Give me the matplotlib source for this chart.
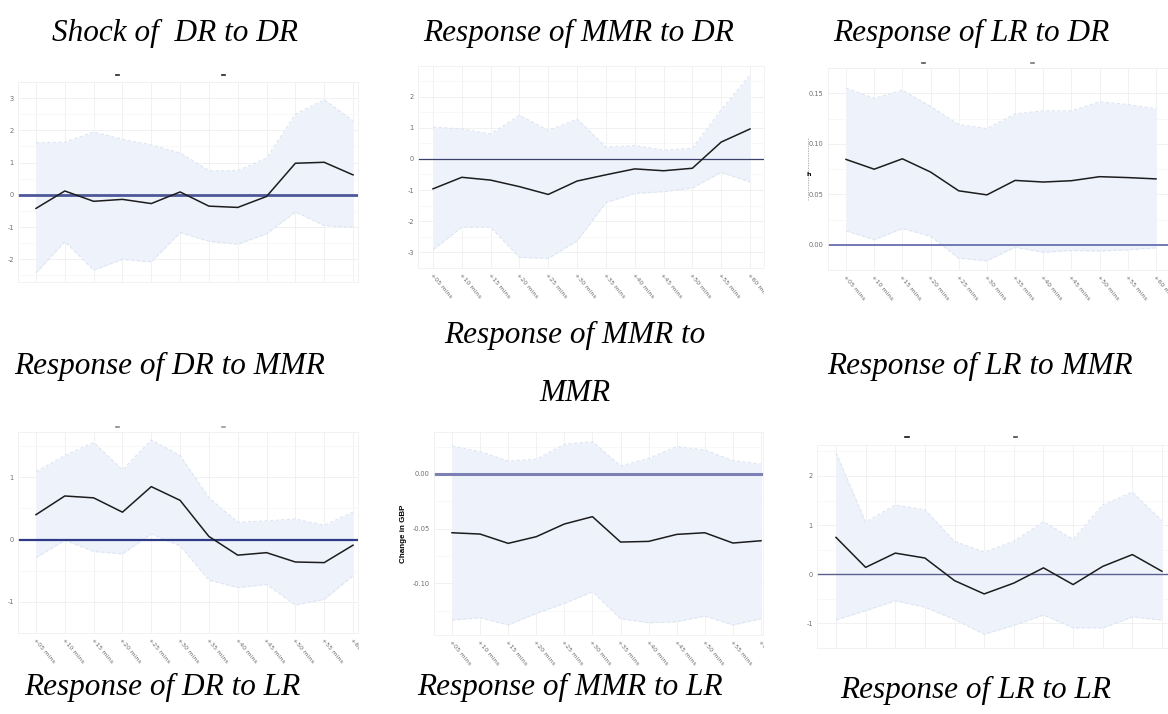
import matplotlib
matplotlib.use("Agg")
import matplotlib.pyplot as plt
from matplotlib.patches import Rectangle
from matplotlib.lines import Line2D
import numpy as np

plt.rcParams['axes.unicode_minus'] = False

# ---------------- data ----------------
horizons = ["+05 mins", "+10 mins", "+15 mins", "+20 mins", "+25 mins", "+30 mins",
            "+35 mins", "+40 mins", "+45 mins", "+50 mins", "+55 mins", "+60 mins"]

titles_row1 = ["Shock of  DR to DR", "Response of MMR to DR", "Response of LR to DR"]
titles_row2 = ["Response of DR to MMR", "Response of MMR to", "MMR", "Response of LR to MMR"]
titles_row3 = ["Response of DR to LR", "Response of MMR to LR", "Response of LR to LR"]

dr_dr = [-0.42, 0.12, -0.20, -0.14, -0.27, 0.09, -0.35, -0.39, -0.05, 0.98, 1.01, 0.62]
dr_dr_hi = [1.62, 1.63, 1.95, 1.72, 1.55, 1.30, 0.75, 0.75, 1.14, 2.50, 2.95, 2.30]
dr_dr_lo = [-2.42, -1.45, -2.33, -2.00, -2.08, -1.17, -1.44, -1.53, -1.21, -0.53, -0.95, -1.00]

mmr_dr = [-0.96, -0.59, -0.68, -0.89, -1.14, -0.71, -0.51, -0.32, -0.38, -0.30, 0.54, 0.96]
mmr_dr_hi = [1.02, 0.96, 0.80, 1.40, 0.91, 1.28, 0.38, 0.43, 0.28, 0.34, 1.57, 2.69]
mmr_dr_lo = [-2.91, -2.19, -2.19, -3.16, -3.19, -2.63, -1.40, -1.11, -1.05, -0.93, -0.43, -0.74]

lr_dr = [0.0845, 0.0748, 0.0851, 0.0720, 0.0534, 0.0494, 0.0637, 0.0621, 0.0634, 0.0674, 0.0665, 0.0652]
lr_dr_hi = [0.155, 0.145, 0.153, 0.137, 0.119, 0.115, 0.1295, 0.1326, 0.1326, 0.1416, 0.1388, 0.1348]
lr_dr_lo = [0.0137, 0.0050, 0.0161, 0.0084, -0.0134, -0.0158, -0.0025, -0.0075, -0.0056, -0.0062, -0.0050, -0.0031]

dr_mmr = [0.40, 0.70, 0.67, 0.44, 0.85, 0.63, 0.05, -0.25, -0.21, -0.36, -0.37, -0.09]
dr_mmr_hi = [1.09, 1.35, 1.56, 1.12, 1.60, 1.35, 0.67, 0.28, 0.30, 0.33, 0.23, 0.44]
dr_mmr_lo = [-0.29, -0.01, -0.19, -0.23, 0.09, -0.10, -0.65, -0.77, -0.72, -1.05, -0.96, -0.58]

mmr_mmr = [-0.0537, -0.0549, -0.0634, -0.0573, -0.0457, -0.0390, -0.0622, -0.0616, -0.0552, -0.0537, -0.0631, -0.0610]
mmr_mmr_hi = [0.0256, 0.0204, 0.0119, 0.0134, 0.0271, 0.0296, 0.0073, 0.0143, 0.0250, 0.0220, 0.0122, 0.0091]
mmr_mmr_lo = [-0.1335, -0.1314, -0.1380, -0.1274, -0.1183, -0.1076, -0.1323, -0.1360, -0.1350, -0.1299, -0.1380, -0.1323]

lr_mmr = [0.75, 0.14, 0.43, 0.33, -0.13, -0.40, -0.18, 0.13, -0.21, 0.16, 0.40, 0.06]
lr_mmr_hi = [2.47, 1.06, 1.41, 1.31, 0.67, 0.45, 0.67, 1.07, 0.71, 1.41, 1.67, 1.09]
lr_mmr_lo = [-0.93, -0.74, -0.54, -0.67, -0.92, -1.22, -1.04, -0.83, -1.09, -1.09, -0.87, -0.93]

# ---------------- figure ----------------
W, H = 1168, 714
fig = plt.figure(figsize=(W / 100, H / 100), dpi=100)
fig.patch.set_facecolor("white")

FILL = "#eef3fb"
EDGE = "#dde5f3"
GRID = "#efefef"
TICKC = "#6e6e6e"

def panel(rect, first_last, yref, yticks, yfmt, resp, hi, lo, zcol, zlw,
          xlabels=True):
    L, T, R, B = rect
    x1, x12 = first_last
    v0, p0, k = yref
    ax = fig.add_axes([L / W, 1 - B / H, (R - L) / W, (B - T) / H])
    s = (x12 - x1) / 11.0
    ax.set_xlim(1 - (x1 - L) / s, 12 + (R - x12) / s)
    ax.set_ylim(v0 - (B - p0) / k, v0 + (p0 - T) / k)
    x = np.arange(1, len(resp) + 1)
    ax.fill_between(x, lo, hi, color=FILL, lw=0, zorder=1)
    ax.plot(x, hi, color=EDGE, lw=0.8, ls=(0, (3, 2)), zorder=1.5)
    ax.plot(x, lo, color=EDGE, lw=0.8, ls=(0, (3, 2)), zorder=1.5)
    ax.axhline(0, color=zcol, lw=zlw, zorder=2)
    ax.plot(x, resp, color="#1c1c1c", lw=1.1, zorder=3)
    ax.set_xticks(x)
    ax.set_yticks(yticks)
    dy = yticks[1] - yticks[0]
    ax.set_yticks([t + dy / 2 for t in yticks] + [yticks[0] - dy / 2], minor=True)
    ax.set_yticklabels([yfmt.format(t) for t in yticks])
    ax.grid(True, which="major", color=GRID, lw=0.6, zorder=0)
    ax.grid(True, which="minor", axis="y", color="#f6f6f6", lw=0.5, zorder=0)
    ax.set_axisbelow(True)
    ax.tick_params(axis="y", length=0, labelsize=4.8, labelcolor=TICKC, pad=3)
    ax.tick_params(axis="x", length=0, labelsize=4.6, labelcolor=TICKC, pad=3)
    ax.tick_params(which="minor", length=0)
    if xlabels:
        ax.set_xticklabels(horizons, rotation=-50, ha="left", va="top",
                           rotation_mode="anchor")
    else:
        ax.set_xticklabels([])
    for sp in ax.spines.values():
        sp.set_color("#f0f0f0")
        sp.set_linewidth(0.6)
    return ax

# row 1
panel((18, 82, 358, 282), (36, 353), (0, 191, 33.67), [-2, -1, 0, 1, 2, 3], "{:g}",
      dr_dr, dr_dr_hi, dr_dr_lo, "#4d5799", 2.0, xlabels=False)
panel((418, 66, 764, 268), (433, 750), (0, 159.3, 31.3), [-3, -2, -1, 0, 1, 2], "{:g}",
      mmr_dr, mmr_dr_hi, mmr_dr_lo, "#3b3f6b", 0.9)
panel((828, 68, 1168, 270), (846, 1156), (0, 244, 53.7 / 0.05), [0.0, 0.05, 0.10, 0.15], "{:.2f}",
      lr_dr, lr_dr_hi, lr_dr_lo, "#5c63a8", 1.2)
# row 2
panel((18, 432, 358, 633), (36, 353), (0, 551.7, 69.3), [-1, 0, 1], "{:g}",
      dr_mmr, dr_mmr_hi, dr_mmr_lo, "#2e3a86", 1.6)
ax5 = panel((434, 432, 763, 635), (452, 761), (0, 474, 54.7 / 0.05), [-0.10, -0.05, 0.0], "{:.2f}",
            mmr_mmr, mmr_mmr_hi, mmr_mmr_lo, "#7c80b5", 2.2)
ax5.set_ylabel("Change in GBP", fontsize=5.8, fontweight="bold",
               family="Liberation Sans", labelpad=4)
panel((817, 445, 1168, 648), (836, 1162), (0, 581.7, 52.0), [-1, 0, 1, 2], "{:g}",
      lr_mmr, lr_mmr_hi, lr_mmr_lo, "#5b6090", 1.0, xlabels=False)

# white crop strips (screenshots were cut at the right edge)
for (x0, y0, x1_, y1_) in [(359, 634, 385, 672), (764, 268, 776, 312), (764, 636, 785, 672)]:
    fig.add_artist(Rectangle((x0 / W, 1 - y1_ / H), (x1_ - x0) / W, (y1_ - y0) / H,
                             transform=fig.transFigure, facecolor="white",
                             edgecolor="none", zorder=10))

# remnant of cropped axis title left of panel 3
fig.add_artist(Line2D([808 / W, 808 / W], [1 - 138 / H, 1 - 200 / H],
                      transform=fig.transFigure, color="#999999", lw=0.5,
                      ls=(0, (2, 1.5))))
fig.text(809 / W, 1 - 175 / H, "h", fontsize=4.5, fontweight="bold",
         ha="center", va="center")

# tiny remnants of cropped chart titles above the panels
for (mx, my, col) in [(117, 75, "#222222"), (223, 75, "#222222"),
                      (923, 63, "#555555"), (1032, 63, "#777777"),
                      (117, 427, "#888888"), (223, 427, "#999999"),
                      (907, 437, "#111111"), (1015, 437, "#444444")]:
    fig.add_artist(Line2D([(mx - 1.5) / W, (mx + 1.5) / W], [1 - my / H, 1 - my / H],
                          transform=fig.transFigure, color=col, lw=1.2))

# titles
tkw = dict(family="Liberation Serif", style="italic", fontsize=22.5,
           ha="center", va="center", color="black")
for txt, (cx, cy) in zip(titles_row1, [(175, 33), (579, 33), (971, 33)]):
    fig.text(cx / W, 1 - cy / H, txt, **tkw)
for txt, (cx, cy) in zip(titles_row2, [(170, 366), (575, 335), (575, 393), (980, 366)]):
    fig.text(cx / W, 1 - cy / H, txt, **tkw)
for txt, (cx, cy) in zip(titles_row3, [(162, 687), (570, 687), (976, 690)]):
    fig.text(cx / W, 1 - cy / H, txt, **tkw)

fig.savefig("out.png", dpi=100, facecolor="white")
